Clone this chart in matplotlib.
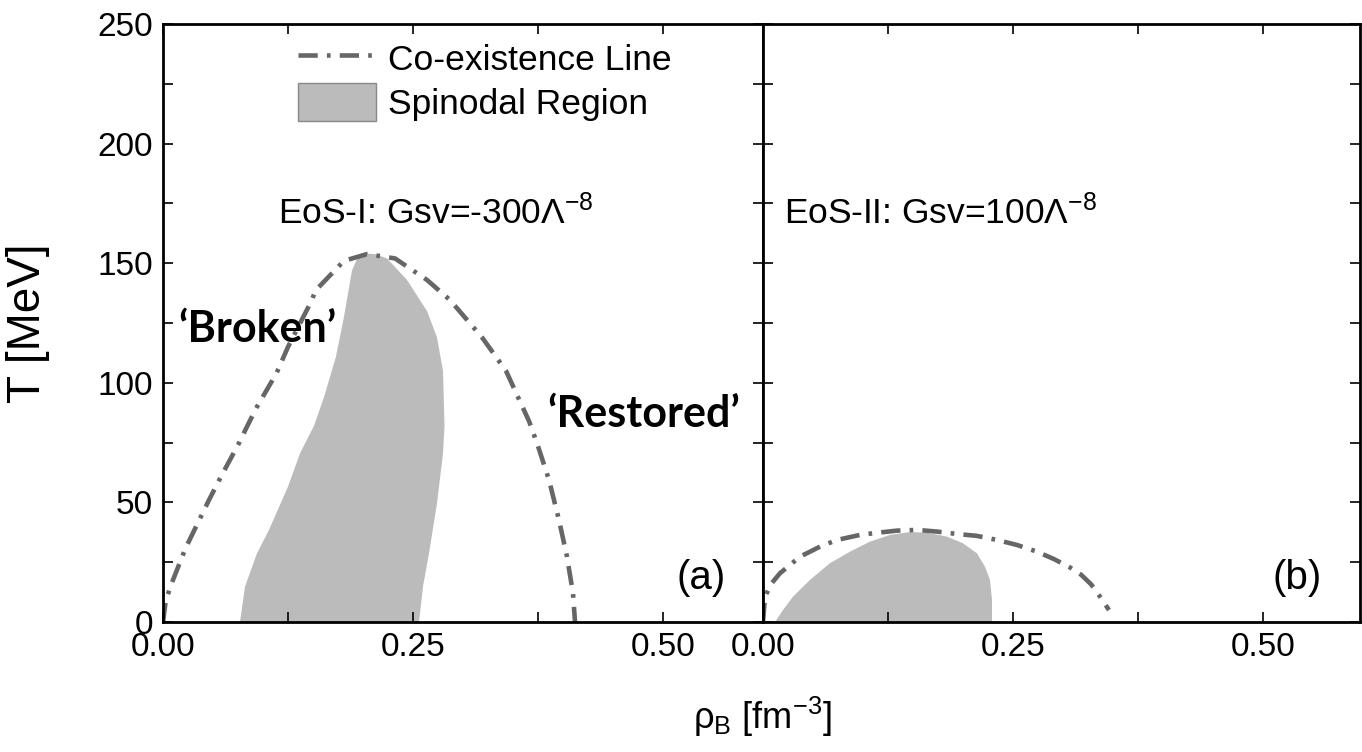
import matplotlib
matplotlib.use('Agg')
import matplotlib.pyplot as plt
from matplotlib.ticker import MultipleLocator
from matplotlib.lines import Line2D
from matplotlib.patches import Patch

plt.rcParams['font.family'] = ['Liberation Sans', 'DejaVu Sans']
plt.rcParams['mathtext.fontset'] = 'custom'
plt.rcParams['mathtext.rm'] = 'Liberation Sans'
plt.rcParams['mathtext.it'] = 'Liberation Sans:italic'

# EoS-I: co-existence line (rho_B [fm^-3], T [MeV])
coex1_rho = [0.0, 0.0028, 0.0087, 0.0226, 0.046, 0.058, 0.076, 0.084, 0.094, 0.1135,
             0.125, 0.147, 0.153, 0.181, 0.204, 0.232, 0.264, 0.287, 0.319, 0.343,
             0.366, 0.374, 0.386, 0.396, 0.404, 0.410, 0.412]
coex1_T = [0, 9, 16.2, 30.9, 51, 60.8, 74.8, 81.7, 90, 104,
           115, 133, 138.8, 151, 153.8, 152, 143, 134.6, 119, 105,
           84, 74.8, 59.4, 42.6, 27.3, 12, 0]

# EoS-I: spinodal region outline
spin1_rho = [0.077, 0.082, 0.094, 0.106, 0.125, 0.137, 0.151, 0.161, 0.173, 0.181,
             0.189, 0.195, 0.204, 0.212, 0.224, 0.244, 0.264, 0.274, 0.280, 0.2815,
             0.280, 0.274, 0.266, 0.260, 0.256]
spin1_T = [0, 14.8, 28.7, 38.5, 56.6, 70.5, 82, 94, 111, 127.6,
           147, 152.7, 154, 153.8, 152, 143, 130, 119, 105, 82,
           70.5, 49.6, 28.7, 14.8, 0]

# EoS-II: co-existence line
coex2_rho = [0.0, 0.002, 0.0087, 0.017, 0.037, 0.057, 0.074, 0.097, 0.114, 0.134,
             0.154, 0.174, 0.194, 0.214, 0.234, 0.254, 0.274, 0.291, 0.307, 0.318,
             0.328, 0.337, 0.346]
coex2_T = [0, 10.6, 16.2, 20.4, 27.3, 31.5, 34.3, 36.4, 37.3, 38.2,
           38.5, 37.8, 36.8, 36, 34.3, 32.2, 29.4, 26.3, 22.8, 19.8,
           15.8, 10.6, 5]

# EoS-II: spinodal region outline
spin2_rho = [0.012, 0.020, 0.030, 0.047, 0.067, 0.087, 0.107, 0.127, 0.147, 0.164,
             0.184, 0.200, 0.214, 0.222, 0.227, 0.229, 0.229]
spin2_T = [0, 5, 10.6, 17.6, 24.6, 29.4, 33.6, 36.4, 37.6, 37.3,
           35.7, 32.9, 28.7, 23.1, 17.6, 9.2, 0]

line_color = '#666666'
fill_color = '#bbbbbb'
dash = (0, (4.2, 2.0, 0.8, 2.0))
lw = 3.3

fig = plt.figure(figsize=(13.62, 7.52), dpi=100)
ax1 = fig.add_axes([163/1362, 130/752, 600/1362, 598/752])
ax2 = fig.add_axes([763/1362, 130/752, 597/1362, 598/752])

ax1.fill(spin1_rho, spin1_T, color=fill_color, lw=0)
ax1.plot(coex1_rho, coex1_T, color=line_color, lw=lw, linestyle=dash)
ax2.fill(spin2_rho, spin2_T, color=fill_color, lw=0)
ax2.plot(coex2_rho, coex2_T, color=line_color, lw=lw, linestyle=dash)

for ax in (ax1, ax2):
    ax.set_xlim(0, 0.6)
    ax.set_ylim(0, 250)
    ax.xaxis.set_major_locator(MultipleLocator(0.25))
    ax.xaxis.set_minor_locator(MultipleLocator(0.125))
    ax.yaxis.set_major_locator(MultipleLocator(50))
    ax.yaxis.set_minor_locator(MultipleLocator(25))
    ax.tick_params(which='both', direction='in', top=True, right=True,
                   length=7, width=1.2, labelsize=24, pad=7)
    ax.xaxis.set_major_formatter(plt.FormatStrFormatter('%.2f'))
    for s in ax.spines.values():
        s.set_linewidth(2)
ax2.set_xlim(0, 0.597)
ax2.tick_params(labelleft=False)

# legend
handles = [Line2D([], [], color=line_color, lw=lw, linestyle=dash),
           Patch(facecolor=fill_color, edgecolor='#888888')]
ax1.legend(handles, ['Co-existence Line', 'Spinodal Region'], loc='upper left',
           bbox_to_anchor=(0.225, 0.975), frameon=False, fontsize=25.5,
           borderpad=0, borderaxespad=0, handlelength=2.2, handleheight=1.3,
           handletextpad=0.35, labelspacing=0.15)

ax1.text(0.455, 0.685, 'EoS-I: Gsv=-300Λ$^\\mathregular{-8}$', transform=ax1.transAxes,
         ha='center', va='center', fontsize=25.5)
ax2.text(0.035, 0.685, 'EoS-II: Gsv=100Λ$^\\mathregular{-8}$', transform=ax2.transAxes,
         ha='left', va='center', fontsize=25.5)
ax1.text(0.025, 0.49, '‘Broken’', transform=ax1.transAxes, fontsize=31,
         fontweight='bold', family='Lato', va='center')
ax1.text(0.64, 0.348, '‘Restored’', transform=ax1.transAxes, fontsize=31,
         fontweight='bold', family='Lato', va='center')
ax1.text(0.897, 0.073, '(a)', transform=ax1.transAxes, fontsize=29,
         ha='center', va='center')
ax2.text(0.895, 0.073, '(b)', transform=ax2.transAxes, fontsize=29,
         ha='center', va='center')

ax1.set_ylabel('T [MeV]', fontsize=33, labelpad=34)
fig.text(762/1362, 1 - 717/752, 'ρ$_\\mathregular{B}$ [fm$^\\mathregular{-3}$]',
         fontsize=26, ha='center', va='center')

plt.savefig('out.png', dpi=100)
